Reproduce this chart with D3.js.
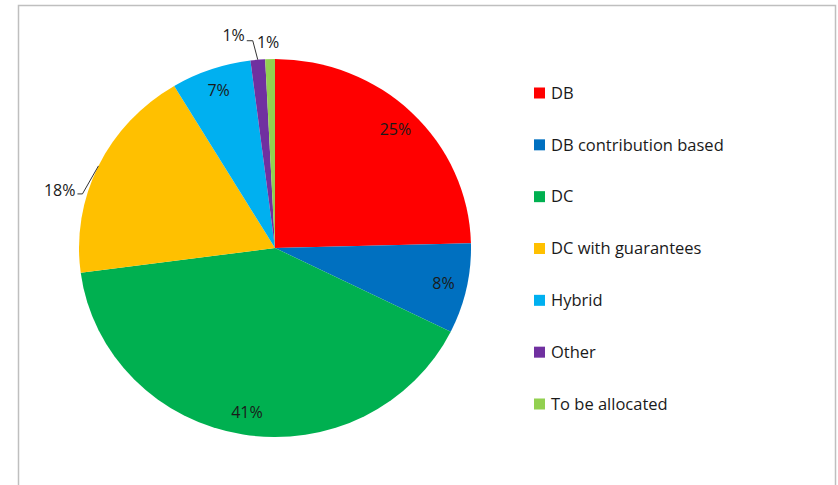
<!DOCTYPE html>
<html>
<head>
<meta charset="utf-8">
<script src="https://cdn.jsdelivr.net/npm/d3@7"></script>
<style>
  body { margin: 0; background: #fff; }
  text { font-family: "Open Sans", sans-serif; fill: #1a1a1a; }
</style>
</head>
<body>
<div id="pie"></div>
<script>
var categories = ["DB", "DB contribution based", "DC", "DC with guarantees", "Hybrid", "Other", "To be allocated"]
var shares = [24.6, 7.7, 40.6, 18.5, 6.6, 1.2, 0.8]
var labels = ["25%", "8%", "41%", "18%", "7%", "1%", "1%"]
var colors = ["#ff0000", "#0070c0", "#00b050", "#ffc000", "#00b0f0", "#7030a0", "#92d050"]

var W = 838, H = 485
var cx = 275, cy = 248, rx = 196, ry = 189
var fs = "16px"

var svg = d3.select("#pie")
    .append("svg")
      .attr("width", W)
      .attr("height", H)

// chart frame (no bottom edge visible)
svg.append("path")
    .attr("d", "M18.5," + H + "V5.5H835.5V" + H)
    .attr("fill", "none")
    .attr("stroke", "#bfbfbf")
    .attr("stroke-width", 1.5)

var data = categories.map(function(c, i) {
    return {name: c, value: shares[i], label: labels[i], color: colors[i]}
})

var pie = d3.pie()
    .sort(null)
    .value(function(d) { return d.value; })

var arcs = pie(data)

var arc = d3.arc()
    .innerRadius(0)
    .outerRadius(rx)

// slightly squashed, like the original
var g = svg.append("g")
    .attr("transform", "translate(" + cx + "," + cy + ") scale(1," + (ry / rx) + ")")

g.selectAll("path")
    .data(arcs)
    .enter()
    .append("path")
    .attr("d", arc)
    .attr("fill", function(d) { return d.data.color; })

function pt(a, f) {
    return [cx + Math.sin(a) * rx * f, cy - Math.cos(a) * ry * f]
}

var mid = function(d) { return (d.startAngle + d.endAngle) / 2; }

arcs.forEach(function(d, i) {
    var m = mid(d)
    if (i == 3) {
        // DC with guarantees: outside, with leader
        var e = pt(m, 1)
        var k = [e[0] - 16, e[1] + 28]
        svg.append("path")
            .attr("d", "M" + e[0] + "," + e[1] + "L" + k[0] + "," + k[1] + "H" + (k[0] - 5))
            .attr("fill", "none").attr("stroke", "#333").attr("stroke-width", 1)
        svg.append("text")
            .attr("x", k[0] - 7).attr("y", k[1] - 4)
            .attr("text-anchor", "end").attr("dy", "0.35em")
            .style("font-size", fs)
            .text(d.data.label)
    } else if (i == 5) {
        var e = pt(m, 1)
        var k = [e[0] - 5, e[1] - 19]
        svg.append("path")
            .attr("d", "M" + e[0] + "," + e[1] + "L" + k[0] + "," + k[1] + "H" + (k[0] - 6))
            .attr("fill", "none").attr("stroke", "#333").attr("stroke-width", 1)
        svg.append("text")
            .attr("x", k[0] - 8).attr("y", k[1] - 5)
            .attr("text-anchor", "end").attr("dy", "0.35em")
            .style("font-size", fs)
            .text(d.data.label)
    } else if (i == 6) {
        var e = pt(m, 1)
        svg.append("text")
            .attr("x", e[0] - 2).attr("y", e[1] - 17)
            .attr("text-anchor", "middle").attr("dy", "0.35em")
            .style("font-size", fs)
            .text(d.data.label)
    } else {
        var p = pt(m, 0.88)
        svg.append("text")
            .attr("x", p[0]).attr("y", p[1])
            .attr("text-anchor", "middle").attr("dy", "0.35em")
            .style("font-size", fs)
            .text(d.data.label)
    }
})

// legend
var ly = d3.scaleLinear()
    .domain([0, categories.length - 1])
    .range([93, 404])

var leg = svg.selectAll(".leg")
    .data(data)
    .enter()
    .append("g")
    .attr("class", "leg")
    .attr("transform", function(d, i) { return "translate(534," + ly(i) + ")"; })

leg.append("rect")
    .attr("x", 0).attr("y", -5.5)
    .attr("width", 11).attr("height", 11)
    .attr("fill", function(d) { return d.color; })

leg.append("text")
    .attr("x", 17).attr("dy", "0.35em")
    .style("font-size", "16.5px")
    .text(function(d) { return d.name; })
</script>
</body>
</html>
